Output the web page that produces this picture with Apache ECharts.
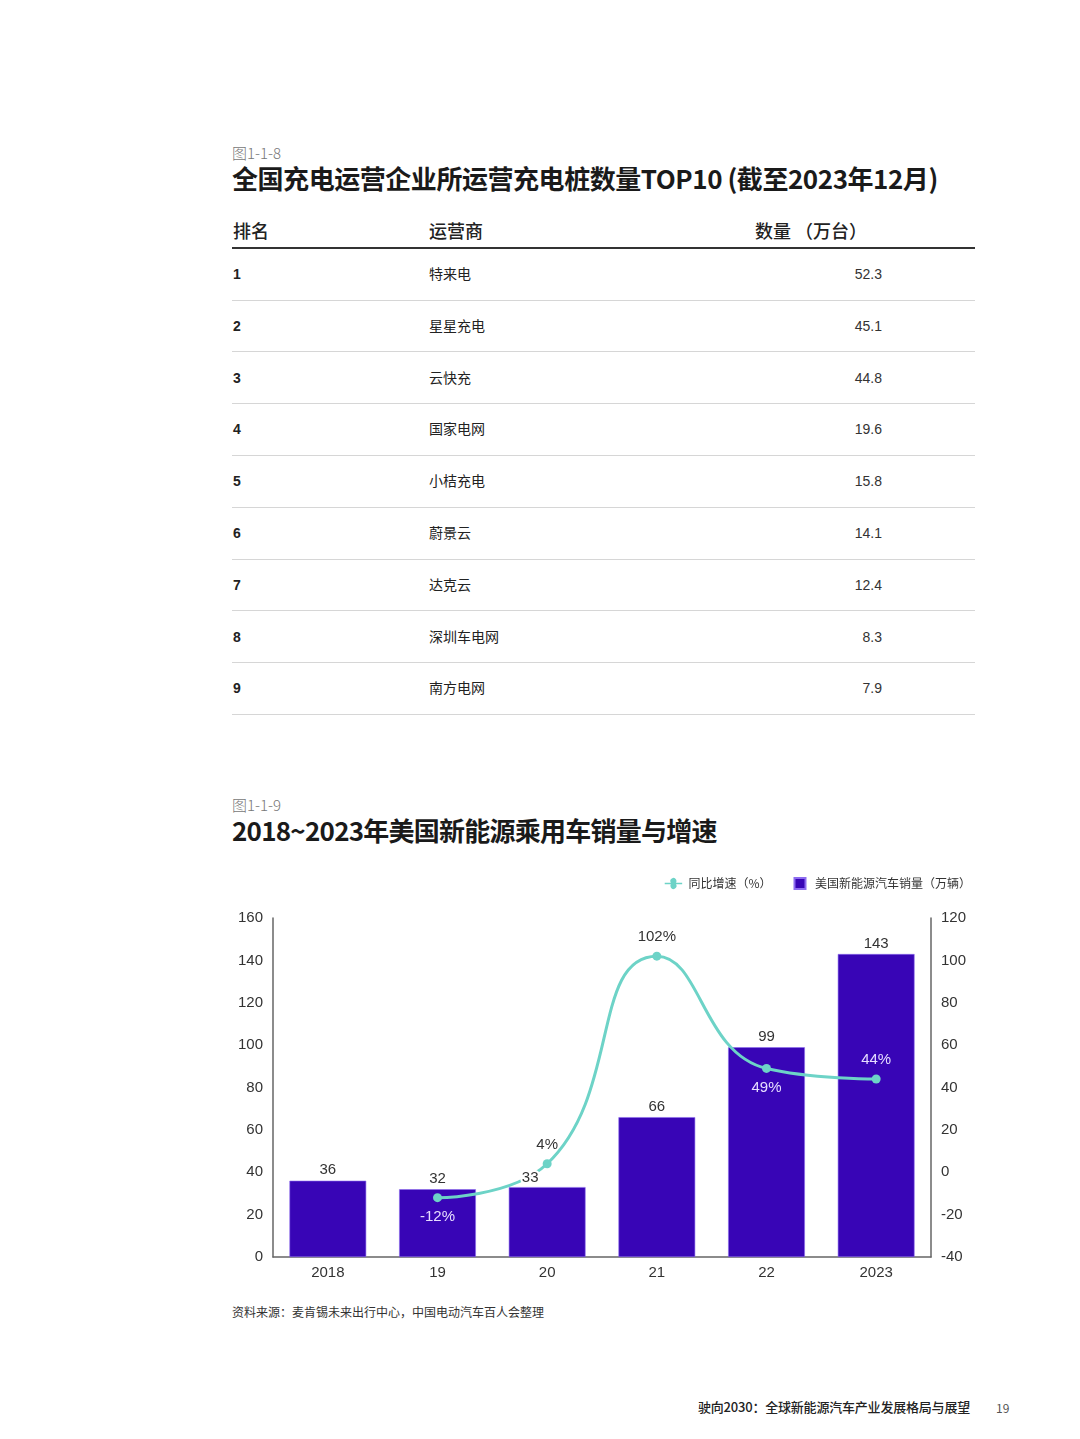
<!DOCTYPE html>
<html><head><meta charset="utf-8">
<script src="https://cdn.jsdelivr.net/npm/echarts@6/dist/echarts.min.js"></script>
<style>
html,body{margin:0;padding:0;background:#fff;}
body{width:1080px;height:1439px;position:relative;overflow:hidden;font-family:"Noto Sans CJK SC","Noto Sans",sans-serif;color:#222;}
.abs{position:absolute;white-space:nowrap;}
.fig{font-size:15px;color:#777;font-family:"Noto Sans CJK SC";font-weight:300;}
.title{font-size:26px;font-weight:700;color:#1a1a1a;}
.th{font-size:18px;color:#222;font-weight:500;}
.rank{font-size:14px;font-weight:700;font-family:"Liberation Sans",Arial,sans-serif;color:#222;}
.name{font-size:14px;color:#222;}
.num{font-size:14px;font-family:"Liberation Sans",Arial,sans-serif;color:#333;text-align:right;width:100px;}
.hline{position:absolute;left:232px;width:743px;height:1px;background:#d6d6d6;}
</style></head>
<body>
<div class="abs fig" style="left:232px;top:142px;">图1-1-8</div>
<div class="abs title" style="left:232px;top:159px;letter-spacing:-0.45px;">全国充电运营企业所运营充电桩数量TOP10 (截至2023年12月)</div>
<div id="table"></div>
<div class="abs fig" style="left:232px;top:794px;">图1-1-9</div>
<div class="abs title" style="left:232px;top:811px;letter-spacing:-0.75px;">2018~2023年美国新能源乘用车销量与增速</div>
<div id="chart" style="position:absolute;left:0;top:860px;width:1080px;height:440px;"></div>
<div class="abs" style="left:232px;top:1303px;font-size:12px;color:#333;">资料来源：麦肯锡未来出行中心，中国电动汽车百人会整理</div>
<div class="abs" style="right:110px;top:1397px;font-size:13px;color:#222;font-weight:500;letter-spacing:-0.2px;">驶向2030：全球新能源汽车产业发展格局与展望</div>
<div class="abs" style="left:996px;top:1399px;font-size:12px;color:#555;">19</div>
<script>
// table data
const tableHeaders = ['排名', '运营商', '数量 （万台）'];
const ranks = ['1','2','3','4','5','6','7','8','9'];
const operators = ['特来电','星星充电','云快充','国家电网','小桔充电','蔚景云','达克云','深圳车电网','南方电网'];
const counts = ['52.3','45.1','44.8','19.6','15.8','14.1','12.4','8.3','7.9'];

// chart data
const years = ['2018','19','20','21','22','2023'];
const sales = [36, 32, 33, 66, 99, 143];
const growth = [null, -12, 4, 102, 49, 44];
const leftTicks = {min: 0, max: 160, interval: 20};
const rightTicks = {min: -40, max: 120, interval: 20};

// build table
(function(){
  const t = document.getElementById('table');
  let h = '';
  h += '<div class="abs th" style="left:233px;top:217px;">'+tableHeaders[0]+'</div>';
  h += '<div class="abs th" style="left:429px;top:217px;">'+tableHeaders[1]+'</div>';
  h += '<div class="abs th" style="left:755px;top:217px;">'+tableHeaders[2]+'</div>';
  h += '<div style="position:absolute;left:232px;top:247px;width:743px;height:2px;background:#333;"></div>';
  const rowH = 51.8;
  for (let i = 0; i < ranks.length; i++) {
    const cy = 274 + i * rowH;
    h += '<div class="abs rank" style="left:233px;top:'+(cy-8)+'px;">'+ranks[i]+'</div>';
    h += '<div class="abs name" style="left:429px;top:'+(cy-11)+'px;">'+operators[i]+'</div>';
    h += '<div class="abs num" style="left:782px;top:'+(cy-8)+'px;">'+counts[i]+'</div>';
    h += '<div class="hline" style="top:'+(cy+25.5).toFixed(1)+'px;"></div>';
  }
  t.innerHTML = h;
})();

const chart = echarts.init(document.getElementById('chart'));
const axisLabel = {color:'#333', fontSize:15, fontFamily:'Liberation Sans, Arial, sans-serif'};
const axisLine = {show:true, lineStyle:{color:'#666', width:1.5}};
const barLabel = {show:true, position:'top', color:'#333', fontSize:15, distance:3, fontFamily:'Liberation Sans, Arial, sans-serif'};
chart.setOption({
  animation:false,
  legend:{
    right:104, top:12, itemGap:22, itemWidth:20, itemHeight:11,
    textStyle:{fontSize:12, color:'#333', fontFamily:'Noto Sans CJK SC'},
    data:[{name:'同比增速（%）', icon:'path://M0,4.5 L7,4.5 A3.5,3.5 0 1 1 13,4.5 L20,4.5 L20,6.5 L13,6.5 A3.5,3.5 0 1 1 7,6.5 L0,6.5 Z'},
          {name:'美国新能源汽车销量（万辆）', icon:'path://M0,0 L11,0 L11,11 L0,11 Z'}]
  },
  grid:{left:273, right:149, top:58, bottom:43, containLabel:false},
  xAxis:{
    type:'category', data:years,
    axisLine:axisLine, axisTick:{show:false},
    axisLabel:Object.assign({margin:8}, axisLabel)
  },
  yAxis:[
    Object.assign({type:'value', position:'left', splitLine:{show:false}, axisLine:axisLine, axisTick:{show:false},
      axisLabel:Object.assign({margin:10}, axisLabel)}, leftTicks),
    Object.assign({type:'value', position:'right', splitLine:{show:false}, axisLine:axisLine, axisTick:{show:false},
      axisLabel:Object.assign({margin:10}, axisLabel)}, rightTicks)
  ],
  series:[
    {
      name:'美国新能源汽车销量（万辆）', type:'bar', yAxisIndex:0,
      barCategoryGap:'30%',
      itemStyle:{color:'#3805B6', borderColor:'#8d6cf0', borderWidth:0.6},
      label:{show:false},
      data:sales,
      z:2
    },
    {
      name:'同比增速（%）', type:'line', yAxisIndex:1,
      smooth:0.5, connectNulls:false,
      symbol:'circle', symbolSize:9,
      lineStyle:{color:'#6DD3C7', width:3},
      itemStyle:{color:'#6DD3C7'},
      label:{show:true, fontSize:15, fontFamily:'Liberation Sans, Arial, sans-serif', formatter:'{c}%'},
      data:growth.map((v,i)=>{
        if (v === null) return null;
        const below = (i===1 || i===4);
        const white = (i===1 || i===4 || i===5);
        return {value:v, label:{position: below?'bottom':'top', distance: 7, color: white?'#e6ddff':'#333'}};
      }),
      z:3
    },
    {
      // value labels for the bars, drawn above the line
      name:'销量标签', type:'bar', yAxisIndex:0, barGap:'-100%', barCategoryGap:'30%',
      itemStyle:{color:'rgba(0,0,0,0)'}, emphasis:{disabled:true}, silent:true,
      label:barLabel,
      data:sales.map((v,i)=> i===2 ? {value:v, label:{offset:[-17,1], textBorderColor:'#fff', textBorderWidth:4}} : v),
      z:5
    }
  ]
});
</script>
</body></html>
